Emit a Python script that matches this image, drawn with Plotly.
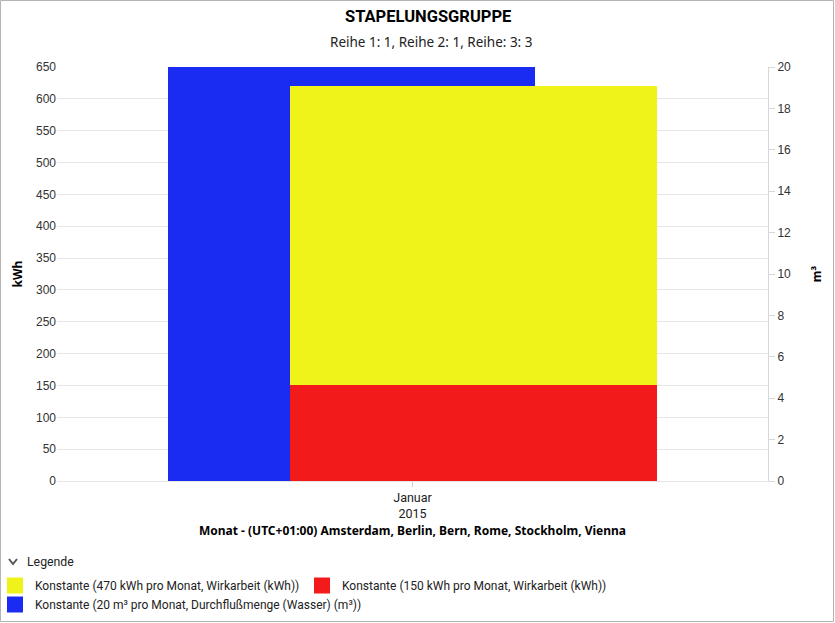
import plotly.graph_objects as go

# data
monat = ["Januar<br>2015"]
wirkarbeit_150 = [150]
wirkarbeit_470 = [470]
wasser_20 = [20]

namen = [
    "Konstante (470 kWh pro Monat, Wirkarbeit (kWh))",
    "Konstante (150 kWh pro Monat, Wirkarbeit (kWh))",
    "Konstante (20 m³ pro Monat, Durchflußmenge (Wasser) (m³))",
]

gelb = "#eff31a"
rot = "#f21a1a"
blau = "#1b2cf2"

W, H = 835, 623
L, R, T, B = 57, 67, 67, 142
pw, ph = W - L - R, H - T - B


def px(x):
    return (x - L) / pw


def py(y):
    return (H - B - y) / ph


fig = go.Figure()

# water (m3) on axis y, drawn underneath
fig.add_trace(go.Bar(x=monat, y=wasser_20, name=namen[2], marker_color=blau,
                     marker_line_width=0, width=0.516, offset=-0.344,
                     yaxis="y", showlegend=False))
# kWh stack on y2 (overlaying, so drawn on top)
fig.add_trace(go.Bar(x=monat, y=wirkarbeit_150, name=namen[1], marker_color=rot,
                     marker_line_width=0, width=0.516, offset=-0.172,
                     yaxis="y2", showlegend=False))
fig.add_trace(go.Bar(x=monat, y=wirkarbeit_470, name=namen[0], marker_color=gelb,
                     marker_line_width=0, width=0.516, offset=-0.172,
                     yaxis="y2", showlegend=False))

# legend entries with larger square swatches
for name, col in zip(namen, [gelb, rot, blau]):
    fig.add_trace(go.Scatter(x=[None], y=[None], mode="markers", name=name, yaxis="y2",
                             marker=dict(symbol="square", size=16, color=col)))

tickfont = dict(family="Liberation Sans, Arial", size=12, color="#333333")
titlefont = dict(family="Noto Sans", size=12, color="#000000", weight="bold")

fig.update_layout(
    width=W, height=H,
    margin=dict(l=L, r=R, t=T, b=B, autoexpand=False),
    paper_bgcolor="white", plot_bgcolor="white",
    barmode="stack",
    bargap=0,
    font=dict(family="Roboto", size=12, color="#222222"),
    xaxis=dict(
        range=[-0.5, 0.5], type="category", automargin=False,
        showgrid=False, showline=True, linecolor="#e6e6e6", linewidth=1,
        ticks="outside", ticklen=5, tickcolor="#cccccc",
        tickfont=dict(family="Roboto", size=12.5, color="#222222"),
        title=dict(text="Monat - (UTC+01:00) Amsterdam, Berlin, Bern, Rome, Stockholm, Vienna",
                   font=titlefont, standoff=6),
    ),
    yaxis=dict(
        side="right", range=[0, 20], dtick=2, automargin=False,
        showgrid=False, showline=True, linecolor="#d8d8d8",
        ticks="outside", ticklen=6, tickcolor="#d8d8d8",
        tickfont=tickfont,
        title=dict(text="m³", font=titlefont, standoff=22),
        zeroline=False,
    ),
    yaxis2=dict(
        side="left", overlaying="y", range=[0, 650], dtick=50, automargin=False,
        showgrid=True, gridcolor="#e6e6e6", showline=False,
        ticks="", tickfont=tickfont,
        title=dict(text="kWh", font=titlefont, standoff=10),
        zeroline=False,
    ),
    legend=dict(
        orientation="h", traceorder="normal",
        x=px(-5), xanchor="left",
        y=py(571), yanchor="top",
        bgcolor="rgba(0,0,0,0)",
        font=dict(family="Roboto", size=12, color="#222222"),
        itemwidth=30, tracegroupgap=0,
        entrywidth=262, entrywidthmode="pixels",
    ),
    showlegend=True,
)

fig.add_annotation(text="<b>STAPELUNGSGRUPPE</b>", xref="paper", yref="paper",
                   x=px(428), y=py(17), xanchor="center", yanchor="middle",
                   showarrow=False, font=dict(family="Roboto", size=16.5, color="#000000"))
fig.add_annotation(text="Reihe 1: 1, Reihe 2: 1, Reihe: 3: 3", xref="paper", yref="paper",
                   x=px(431), y=py(42), xanchor="center", yanchor="middle",
                   showarrow=False, font=dict(family="Noto Sans", size=13.5, color="#222222"))
fig.add_annotation(text="Legende", xref="paper", yref="paper",
                   x=px(25), y=py(562), xanchor="left", yanchor="middle",
                   showarrow=False, font=dict(family="Roboto", size=12.3, color="#222222"))

# chevron next to the legend title
fig.add_shape(type="path", xref="paper", yref="paper",
              path="M %f,%f L %f,%f L %f,%f" % (px(9), py(559), px(13), py(564), px(17), py(559)),
              line=dict(color="#555555", width=2))

# outer frame around the whole chart
fig.add_shape(type="rect", xref="paper", yref="paper",
              x0=px(0.5), x1=px(W - 1.5),
              y0=py(H - 1.5), y1=py(0.5),
              line=dict(color="#b4b4b4", width=1), fillcolor="rgba(0,0,0,0)",
              layer="below")

fig.write_html("out.html", config={"displayModeBar": False},
               post_script="document.body.style.margin='0';")
